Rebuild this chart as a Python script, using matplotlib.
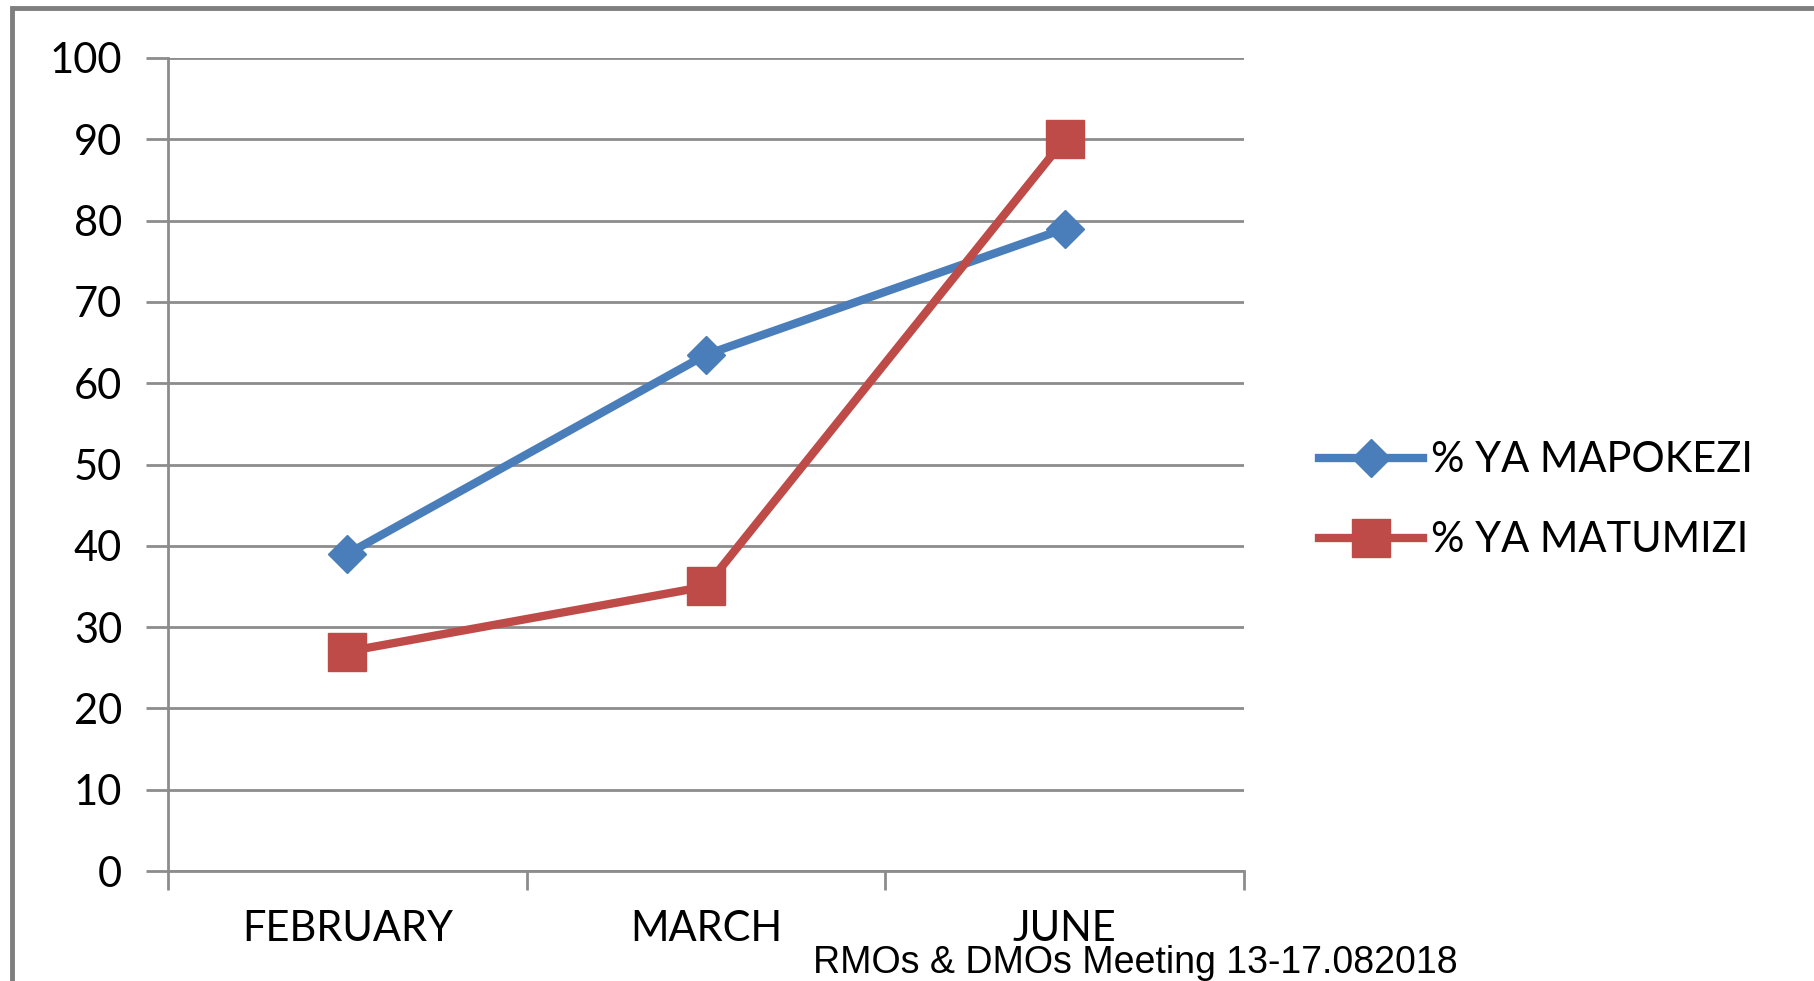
import matplotlib
matplotlib.use("Agg")
import matplotlib.pyplot as plt
from matplotlib.patches import Rectangle

months = ["FEBRUARY", "MARCH", "JUNE"]
mapokezi = [39, 63.5, 79]
matumizi = [27, 35, 90]
series_names = ["% YA MAPOKEZI", "% YA MATUMIZI"]
yticks = list(range(0, 101, 10))
footer = "RMOs & DMOs Meeting 13-17.082018"

blue = "#4A7EBB"
red = "#BE4B48"
grey = "#8C8C8C"

plt.rcParams["font.family"] = ["Lato", "DejaVu Sans"]

fig = plt.figure(figsize=(18.14, 9.81), dpi=100)
ax = fig.add_axes([0.0926, 0.1121, 0.5932, 0.8288])

x = list(range(len(months)))
ax.plot(x, mapokezi, color=blue, lw=6, marker="D", ms=19, label=series_names[0])
ax.plot(x, matumizi, color=red, lw=6, marker="s", ms=27, label=series_names[1])

ax.set_ylim(0, 100)
ax.set_xlim(-0.5, len(months) - 0.5)
ax.set_yticks(yticks)
ax.yaxis.grid(True, color=grey, lw=2)
ax.set_axisbelow(True)

# category boundaries as major ticks, labels on minor ticks
ax.set_xticks([i - 0.5 for i in range(len(months) + 1)])
ax.set_xticklabels([])
ax.set_xticks(x, minor=True)
ax.set_xticklabels(months, minor=True)
ax.tick_params(axis="x", which="major", length=14, width=2, color=grey, direction="out")
ax.tick_params(axis="x", which="minor", length=0, pad=28, labelsize=30)
ax.tick_params(axis="y", length=16, width=2, color=grey, pad=17, labelsize=30)

for s in ["top", "right"]:
    ax.spines[s].set_visible(False)
for s in ["left", "bottom"]:
    ax.spines[s].set_color(grey)
    ax.spines[s].set_linewidth(2)

fig.legend(loc="upper left", bbox_to_anchor=(0.727, 0.550), frameon=False,
           fontsize=30, handlelength=2.5, handletextpad=0.2, labelspacing=1.0,
           borderpad=0, borderaxespad=0)

# outer frame of the slide
fig.patches.append(Rectangle((12 / 1814, -0.5), 2, 1.5 - 8 / 981, transform=fig.transFigure,
                             fill=False, ec="#7F7F7F", lw=3.5, clip_on=False))

fig.text(0.626, 0.018, footer, ha="center", va="center", fontsize=27,
         family=["Liberation Sans", "DejaVu Sans"])

fig.savefig("out.png", dpi=100)
